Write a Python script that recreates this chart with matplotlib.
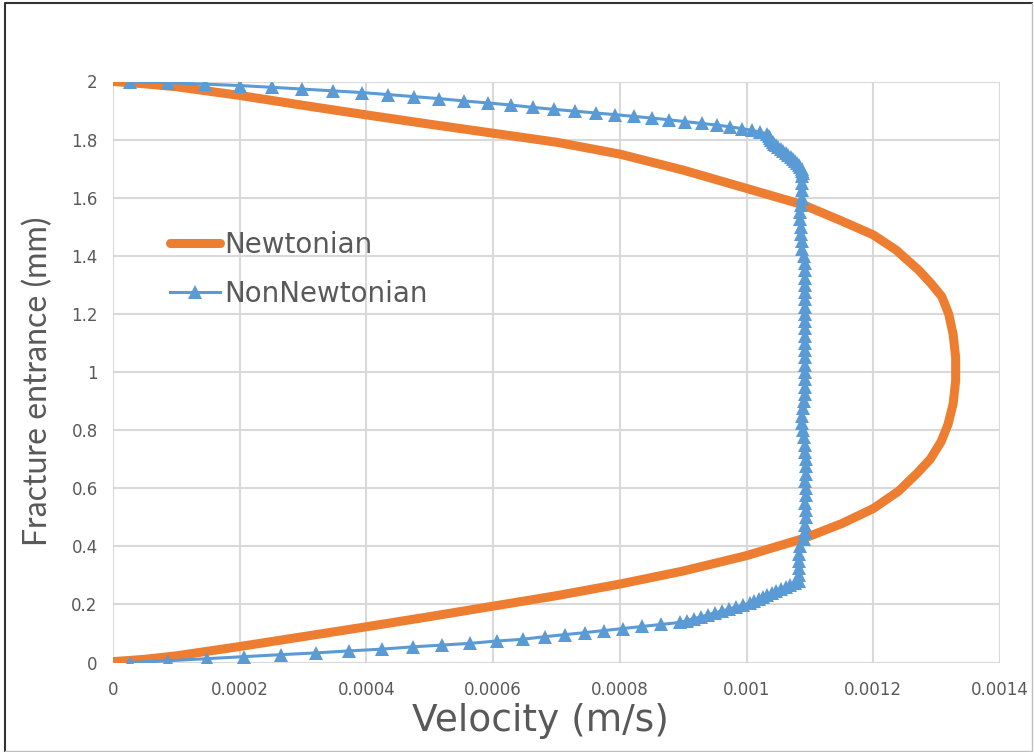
import numpy as np
import matplotlib
matplotlib.use("Agg")
import matplotlib.pyplot as plt
from matplotlib.lines import Line2D

plt.rcParams['font.family'] = ['DejaVu Sans']

# Newtonian profile: velocity (m/s) against position across the fracture (mm)
newt_vel = [0.0, 0.00005, 0.0001, 0.0002, 0.0003, 0.0004, 0.0005, 0.0006, 0.0007,
            0.0008, 0.0009, 0.001, 0.00109, 0.00115, 0.0012, 0.00124, 0.001269,
            0.00129, 0.001307, 0.001318, 0.001326, 0.00133, 0.00133, 0.001326,
            0.001319, 0.001308, 0.001291, 0.001272, 0.001236, 0.0012, 0.00115,
            0.00109, 0.001, 0.0009, 0.0008, 0.0007, 0.0006, 0.0005, 0.0004,
            0.0003, 0.0002, 0.0001, 0.00005, 0.0]
newt_pos = [0.003, 0.011, 0.023, 0.055, 0.089, 0.123, 0.158, 0.194, 0.230,
            0.270, 0.315, 0.368, 0.427, 0.478, 0.530, 0.590, 0.651,
            0.700, 0.760, 0.820, 0.890, 0.970, 1.050, 1.130,
            1.200, 1.260, 1.305, 1.350, 1.420, 1.472, 1.520,
            1.575, 1.632, 1.695, 1.750, 1.791, 1.822, 1.853, 1.885,
            1.918, 1.952, 1.982, 1.992, 2.0]

# Non-Newtonian profile, top wall down to bottom wall
nn_vel = [
    # upper branch
    0.0000268, 0.0000863, 0.0001452, 0.0002005, 0.0002515, 0.0002988, 0.0003468,
    0.0003926, 0.0004346, 0.0004751, 0.0005151, 0.0005545, 0.0005924, 0.0006282,
    0.0006625, 0.0006966, 0.000729, 0.000762, 0.000792, 0.000822, 0.000851,
    0.000878, 0.000903, 0.000929, 0.000953, 0.000974, 0.000992, 0.001008,
    0.001021, 0.001032,
    # upper knee
    0.001035, 0.001037, 0.001039, 0.001041, 0.001043, 0.001046, 0.001050,
    0.001054, 0.001058, 0.001062, 0.001066, 0.001070, 0.001074, 0.001077,
    0.001080, 0.001083, 0.001085, 0.001087, 0.001088, 0.001089,
    # plug region
    0.001088, 0.001088, 0.001087, 0.001087, 0.001086, 0.001085, 0.001085, 0.001086,
    0.001086, 0.001087, 0.001088, 0.001091, 0.001093, 0.001093, 0.001093, 0.001092,
    0.001093, 0.001093, 0.001093, 0.001092, 0.001093, 0.001093, 0.001092, 0.001093,
    0.001093, 0.001093, 0.001092, 0.001093, 0.001093, 0.001093, 0.001092, 0.001091,
    0.001089, 0.001088, 0.001088, 0.001089, 0.001090, 0.001093, 0.001093, 0.001094,
    0.001094, 0.001094, 0.001093, 0.001094, 0.001094, 0.001093, 0.001094, 0.001094,
    0.001093, 0.001093, 0.001090, 0.001084, 0.001083, 0.001083, 0.001083, 0.001083,
    0.001083,
    # lower knee and branch
    0.001076, 0.001069, 0.001062, 0.001055, 0.001047, 0.001040, 0.001033, 0.001026,
    0.001019, 0.001012, 0.001005, 0.000994, 0.000983, 0.000972, 0.000961, 0.000950,
    0.000939, 0.000928, 0.000917, 0.000906, 0.000895, 0.000865, 0.000835, 0.000805,
    0.000775, 0.000745, 0.000713, 0.000682, 0.000647, 0.000606, 0.000564, 0.000520,
    0.000474, 0.000424, 0.000373, 0.000320, 0.000265, 0.000206, 0.000148, 0.0000873,
    0.0000268,
]
nn_pos = [
    2.000, 1.996, 1.991, 1.986, 1.980, 1.974, 1.968,
    1.962, 1.955, 1.948, 1.941, 1.933, 1.926, 1.919,
    1.911, 1.904, 1.898, 1.892, 1.886, 1.880, 1.874,
    1.868, 1.862, 1.856, 1.850, 1.844, 1.838, 1.832,
    1.826, 1.820,
    1.813, 1.806, 1.800, 1.793, 1.786, 1.780, 1.773,
    1.766, 1.760, 1.753, 1.746, 1.740, 1.733, 1.726,
    1.720, 1.713, 1.706, 1.700, 1.693, 1.686,
    1.675, 1.650, 1.625, 1.600, 1.575, 1.550, 1.525, 1.500,
    1.475, 1.450, 1.425, 1.400, 1.375, 1.350, 1.325, 1.300,
    1.275, 1.250, 1.225, 1.200, 1.175, 1.150, 1.125, 1.100,
    1.075, 1.050, 1.025, 1.000, 0.975, 0.950, 0.925, 0.900,
    0.875, 0.850, 0.825, 0.800, 0.775, 0.750, 0.725, 0.700,
    0.675, 0.650, 0.625, 0.600, 0.575, 0.550, 0.525, 0.500,
    0.475, 0.450, 0.425, 0.400, 0.375, 0.350, 0.325, 0.300,
    0.280,
    0.273, 0.266, 0.259, 0.252, 0.245, 0.238, 0.231, 0.224,
    0.217, 0.211, 0.204, 0.197, 0.191, 0.184, 0.177, 0.171,
    0.164, 0.157, 0.151, 0.144, 0.138, 0.131, 0.124, 0.117,
    0.110, 0.103, 0.096, 0.089, 0.080, 0.074, 0.066, 0.060,
    0.054, 0.046, 0.040, 0.033, 0.027, 0.020, 0.013, 0.006,
    0.000,
]

x_ticks = [0, 0.0002, 0.0004, 0.0006, 0.0008, 0.001, 0.0012, 0.0014]
x_tick_labels = ["0", "0.0002", "0.0004", "0.0006", "0.0008", "0.001", "0.0012", "0.0014"]
y_ticks = [0, 0.2, 0.4, 0.6, 0.8, 1, 1.2, 1.4, 1.6, 1.8, 2]
y_tick_labels = ["0", "0.2", "0.4", "0.6", "0.8", "1", "1.2", "1.4", "1.6", "1.8", "2"]

orange = "#ED7D31"
blue = "#5B9BD5"
text_col = "#595959"
grid_col = "#D9D9D9"

fig = plt.figure(figsize=(10.34, 7.52), dpi=100)
ax = fig.add_axes([113 / 1034, 1 - 662.5 / 752, 887 / 1034, 581 / 752])

ax.plot(newt_vel, newt_pos, color=orange, lw=6.5, solid_capstyle="round",
        solid_joinstyle="round", label="Newtonian", zorder=3)
ax.plot(nn_vel, nn_pos, color=blue, lw=2.2, marker="^", ms=10,
        markeredgewidth=0, label="NonNewtonian", zorder=4)

ax.set_xlim(0, 0.0014)
ax.set_ylim(0, 2)
ax.set_xticks(x_ticks)
ax.set_xticklabels(x_tick_labels)
ax.set_yticks(y_ticks)
ax.set_yticklabels(y_tick_labels)
ax.tick_params(length=0, labelsize=12, colors=text_col)
ax.tick_params(axis="x", pad=13)
ax.tick_params(axis="y", pad=11)
ax.grid(True, color=grid_col, lw=1.5, zorder=0)
ax.set_axisbelow(True)
for s in ax.spines.values():
    s.set_visible(False)
# grid lines on the plot edges
ax.axhline(0, color=grid_col, lw=1.5, zorder=1)
ax.axhline(2, color=grid_col, lw=1.5, zorder=1)
ax.axvline(0, color=grid_col, lw=1.5, zorder=1)
ax.axvline(0.0014, color=grid_col, lw=1.5, zorder=1)

ax.set_xlabel("Velocity (m/s)", fontsize=27, color=text_col)
ax.xaxis.set_label_coords(0.4814, -0.07)
ax.set_ylabel("Fracture entrance (mm)", fontsize=23, color=text_col,
              family=["Lato", "DejaVu Sans"])
ax.yaxis.set_label_coords(-0.067, 0.4845)

ax.legend(loc="upper left", bbox_to_anchor=(0.036, 0.786), frameon=False,
          fontsize=20, labelcolor=text_col, handlelength=1.8, handletextpad=0.15,
          labelspacing=0.75)

# chart frame
fig.add_artist(Line2D([5 / 1034, 5 / 1034, 1032 / 1034], [1 - 751 / 752, 1 - 3 / 752, 1 - 3 / 752],
                      color="#333333", lw=1.5))
fig.add_artist(Line2D([5 / 1034, 1032 / 1034, 1032 / 1034], [1 - 751 / 752, 1 - 751 / 752, 1 - 3 / 752],
                      color="#BFBFBF", lw=1.0))

fig.savefig("out.png", dpi=100)
